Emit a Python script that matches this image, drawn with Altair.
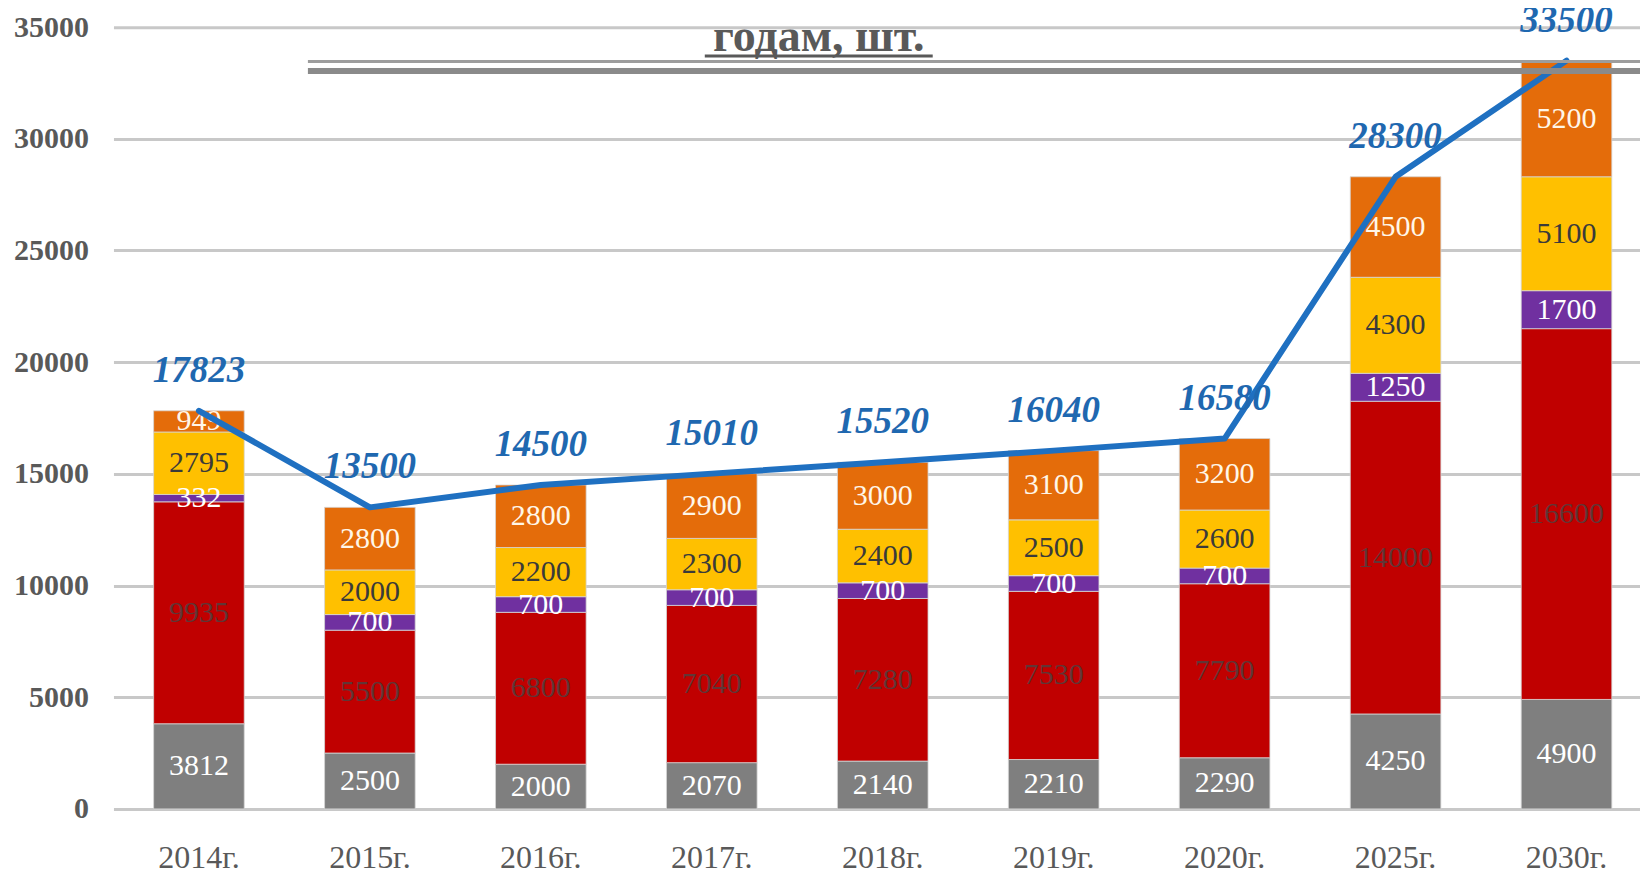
import altair as alt
import pandas as pd

years = ["2014г.", "2015г.", "2016г.", "2017г.", "2018г.", "2019г.", "2020г.", "2025г.", "2030г."]
seg_gray = [3812, 2500, 2000, 2070, 2140, 2210, 2290, 4250, 4900]
seg_red = [9935, 5500, 6800, 7040, 7280, 7530, 7790, 14000, 16600]
seg_purple = [332, 700, 700, 700, 700, 700, 700, 1250, 1700]
seg_yellow = [2795, 2000, 2200, 2300, 2400, 2500, 2600, 4300, 5100]
seg_orange = [949, 2800, 2800, 2900, 3000, 3100, 3200, 4500, 5200]
totals = [17823, 13500, 14500, 15010, 15520, 16040, 16580, 28300, 33500]
y_ticks = [0, 5000, 10000, 15000, 20000, 25000, 30000, 35000]
title_text = "годам, шт."

series_names = ["gray", "red", "purple", "yellow", "orange"]
series_values = [seg_gray, seg_red, seg_purple, seg_yellow, seg_orange]
fill_colors = ["#7f7f7f", "#c00000", "#7030a0", "#ffc000", "#e46c0a"]
label_colors = ["#ffffff", "#603636", "#ffffff", "#3a3a3a", "#fff6e8"]

rows = []
base = [0] * len(years)
for k, (name, vals) in enumerate(zip(series_names, series_values)):
    for i, y in enumerate(years):
        start = base[i]
        end = start + vals[i]
        rows.append({"year": y, "series": name, "order": k, "value": vals[i],
                     "start": start, "end": end, "mid": (start + end) / 2})
        base[i] = end
seg_df = pd.DataFrame(rows)
tot_df = pd.DataFrame({"year": years, "total": totals})

FONT = "Liberation Serif"
x_scale = alt.Scale(domain=years, paddingInner=0.47, paddingOuter=0.235)
y_scale = alt.Scale(domain=[0, 35000], nice=False)

x_enc = alt.X("year:N", scale=x_scale, sort=years,
              axis=alt.Axis(title=None, labelAngle=0, labelFont=FONT, labelFontSize=32,
                            labelColor="#595959", labelPadding=34, ticks=False,
                            domain=False, grid=False))

bars = alt.Chart(seg_df).mark_bar(stroke="#d6d6d6", strokeWidth=0.8).encode(
    x=x_enc,
    y=alt.Y("start:Q", scale=y_scale,
            axis=alt.Axis(title=None, values=y_ticks, format="d", labelFont=FONT,
                          labelFontSize=30, labelFontWeight="bold", labelColor="#595959",
                          labelPadding=25, ticks=False, domain=False, grid=True,
                          gridColor="#c8c8c8", gridWidth=3)),
    y2="end:Q",
    fill=alt.Fill("series:N", scale=alt.Scale(domain=series_names, range=fill_colors), legend=None),
)

seg_labels = alt.Chart(seg_df).mark_text(font=FONT, fontSize=30, baseline="middle").encode(
    x=alt.X("year:N", scale=x_scale, sort=years),
    y=alt.Y("mid:Q", scale=y_scale),
    text=alt.Text("value:Q", format="d"),
    color=alt.Color("series:N", scale=alt.Scale(domain=series_names, range=label_colors), legend=None),
)

line = alt.Chart(tot_df).mark_line(color="#1f70c1", strokeWidth=6, strokeCap="round",
                                   strokeJoin="round").encode(
    x=alt.X("year:N", scale=x_scale, sort=years),
    y=alt.Y("total:Q", scale=y_scale),
)

tot_labels = alt.Chart(tot_df).mark_text(font=FONT, fontSize=37, fontStyle="italic",
                                         fontWeight="bold", color="#1f68b0",
                                         baseline="middle", dy=-40).encode(
    x=alt.X("year:N", scale=x_scale, sort=years),
    y=alt.Y("total:Q", scale=y_scale),
    text=alt.Text("total:Q", format="d"),
)

one = pd.DataFrame({"t": [title_text]})
title = alt.Chart(one).mark_text(font=FONT, fontSize=46, fontWeight="bold", color="#595959",
                                 align="center", baseline="alphabetic").encode(
    x=alt.value(705.5), y=alt.value(24), text="t:N")
underline = alt.Chart(one).mark_rule(color="#595959", strokeWidth=3).encode(
    x=alt.value(591.5), x2=alt.value(819.5), y=alt.value(29))
thin_rule = alt.Chart(one).mark_rule(color="#9d9d9d", strokeWidth=3).encode(
    x=alt.value(194.5), x2=alt.value(1560), y=alt.value(34.5))
thick_rule = alt.Chart(one).mark_rule(color="#8a8a8a", strokeWidth=6).encode(
    x=alt.value(194.5), x2=alt.value(1560), y=alt.value(44))

chart = alt.layer(bars, seg_labels, line, tot_labels, title, underline, thin_rule, thick_rule).resolve_scale(
    color="independent", fill="independent"
).properties(
    width=1539, height=782,
    autosize=alt.AutoSizeParams(type="none"),
    padding={"left": 105.5, "top": 19, "right": -12, "bottom": 62},
    background="white",
).configure_view(stroke=None)

chart.save("out.html", embed_options={"renderer": "svg", "actions": False})
